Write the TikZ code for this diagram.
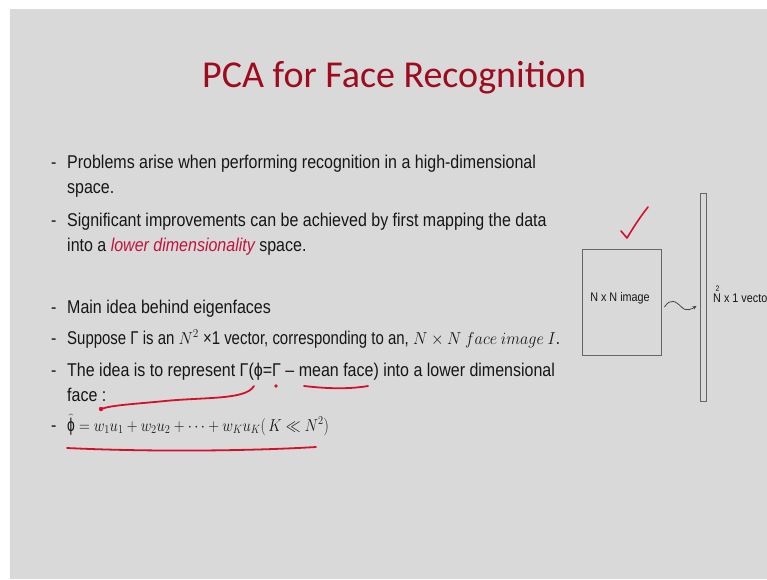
\documentclass[tikz,border=0pt]{standalone}
\usepackage{fontspec}
\usepackage{graphicx}
\setmainfont[FakeStretch=0.865]{Liberation Sans}
\newfontfamily\titlefont{Carlito}
\usetikzlibrary{arrows.meta}
\definecolor{bg}{HTML}{D9D9D9}
\definecolor{ink}{HTML}{161616}
\definecolor{titlered}{HTML}{9E0A1E}
\definecolor{hlred}{HTML}{C0143C}
\definecolor{pen}{HTML}{D4102A}
\definecolor{boxline}{HTML}{666666}
\newcommand{\mth}[1]{{\fontsize{16.5}{18}\selectfont$#1$}}
\begin{document}
\begin{tikzpicture}[x=1pt,y=-1pt,
  txt/.style={anchor=base west, inner sep=0pt, font=\fontsize{18.5}{21}\selectfont, text=ink},
  bul/.style={anchor=base west, inner sep=0pt, font=\fontsize{18.5}{21}\selectfont, text=ink},
  penline/.style={draw=pen, line width=1.8pt, line cap=round, line join=round},
  frame/.style={draw=boxline, line width=0.9pt, inner sep=0pt}]
\useasboundingbox (0,0) rectangle (767,579);
\fill[white] (0,0) rectangle (767,579);
\fill[bg] (10,9) rectangle (767,579);

\node[anchor=base west, inner sep=0pt, font=\titlefont\fontsize{38}{40}\selectfont, text=titlered] (title) at (202,87) {PCA for Face Recognition};

% bullets
\foreach \yy/\nm in {168/d1,226/d2,313/d3,344/d4,376/d5,431/d6}{
  \node[bul] (\nm) at (51,\yy) {-};
}
\node[txt] (l1) at (67,168) {Problems arise when performing recognition in a high-dimensional};
\node[txt] (l2) at (67,193) {space.};
\node[txt] (l3) at (67,226) {Significant improvements can be achieved by first mapping the data};
\node[txt] (l4) at (67,251) {into a {\itshape\color{hlred}lower dimensionality} space.};
\node[txt] (l5) at (67,313) {Main idea behind eigenfaces};
\node[txt] (l6) at (67,344) {\scalebox{0.935}[1]{Suppose Γ is an \mth{N^2} ×1 vector, corresponding to an, \mth{N\times N\ face\ image\ I}.}};
\node[txt] (l7) at (67,376) {The idea is to represent Γ(ϕ=Γ – mean face) into a lower dimensional};
\node[txt] (l8) at (67,401) {face :};
\node[txt] (l9) at (67,431) {\scalebox{0.86}[1]{\mth{\widehat{\mbox{\fontsize{18.5}{21}\selectfont ϕ}} = w_1u_1 + w_2u_2 + \cdots + w_Ku_K(\,K \ll N^2)}}};

% right diagram
\node[frame, minimum width=79pt, minimum height=106pt] (img) at (621.5,302) {};
\node[inner sep=0pt, font=\fontsize{12.5}{14}\selectfont, text=ink] (imgtxt) at (620,298) {N x N image};
\node[frame, minimum width=6pt, minimum height=208pt] (vec) at (703,297) {};
\node[anchor=base west, inner sep=0pt, font=\fontsize{12.5}{14}\selectfont, text=ink] (vectxt) at (713,302) {N x 1 vector};
\node[anchor=base west, inner sep=0pt, font=\fontsize{8}{9}\selectfont, text=ink] (sq) at (715.5,291) {2};
\draw[ink!80, line width=0.8pt, -{Stealth[length=4pt,width=3.5pt]}]
  ([xshift=3pt,yshift=-5pt]img.east) .. controls +(6,-9) and +(-6,-6) .. ++(17,0)
  .. controls +(5,5) and +(-5,3) .. ([xshift=-3pt,yshift=-9pt]vec.west);

% check mark
\coordinate (ck1) at (621,231);
\coordinate (ck2) at (627,238);
\coordinate (ck3) at (648,207);
\draw[penline, line width=1.6pt] (ck1) -- (ck2) .. controls (633,228) and (640,217) .. (ck3);

% pen annotations
\coordinate (u1) at (67,448);
\coordinate (u2) at (316,447);
\draw[penline] (u1) .. controls (150,452) and (250,451) .. (u2);
\coordinate (m1) at (304,386);
\coordinate (m2) at (368,386);
\draw[penline] (m1) .. controls (330,389) and (350,389) .. (m2);
\fill[pen] (276,386) circle (1.8);
\coordinate (a1) at (254,386);
\coordinate (a2) at (101,409);
\draw[penline] (a1) .. controls (246,400) and (205,397) .. (165,401) .. controls (135,404) and (112,405) .. (a2);
\fill[pen] (101,409) circle (2.2);
\end{tikzpicture}
\end{document}
